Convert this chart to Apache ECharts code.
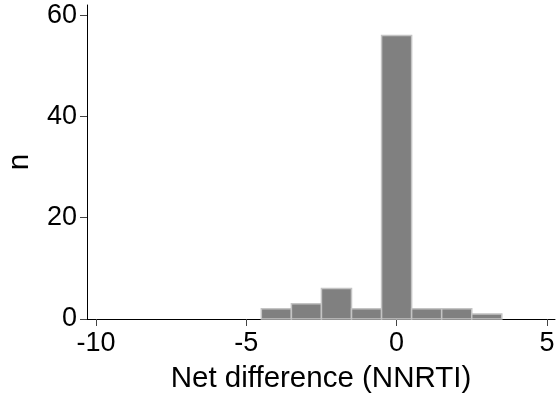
<!doctype html>
<html lang="en">
<head>
<meta charset="UTF-8">
<title>Net difference histogram</title>
<style>
  html, body { margin: 0; padding: 0; background: #fff; }
  #chart { width: 560px; height: 404px; }
</style>
</head>
<body>
<div id="chart"></div>
<script src="https://cdn.jsdelivr.net/npm/echarts@6/dist/echarts.min.js"></script>
<script>
// bin edges (width 1) and counts
var binStart = [-4.5, -3.5, -2.5, -1.5, -0.5, 0.5, 1.5, 2.5];
var binEnd   = [-3.5, -2.5, -1.5, -0.5, 0.5, 1.5, 2.5, 3.5];
var counts   = [2, 3, 6, 2, 56, 2, 2, 1];
var xTicks = [-10, -5, 0, 5];
var yTicks = [0, 20, 40, 60];

var bins = binStart.map(function (s, i) { return [s, binEnd[i], counts[i]]; });

var chart = echarts.init(document.getElementById('chart'));
var font = 'Liberation Sans, Arial, sans-serif';

chart.setOption({
  animation: false,
  grid: { left: 87, right: 5, top: 5, bottom: 85, containLabel: false, outerBoundsMode: 'none' },
  xAxis: {
    type: 'value',
    min: -10.3, max: 5.27,
    name: 'Net difference (NNRTI)',
    nameLocation: 'middle',
    nameGap: 45,
    nameTextStyle: { fontFamily: font, fontSize: 29.5, color: '#000' },
    axisLine: { show: true, onZero: false, lineStyle: { color: '#000', width: 1 } },
    axisTick: { show: true, length: 7, customValues: xTicks, lineStyle: { color: '#444' } },
    axisLabel: { customValues: xTicks, fontFamily: font, fontSize: 27, color: '#000', margin: 11 },
    splitLine: { show: false }
  },
  yAxis: {
    type: 'value',
    min: 0, max: 62,
    name: 'n',
    nameLocation: 'middle',
    nameGap: 52,
    nameRotate: 90,
    nameTextStyle: { fontFamily: font, fontSize: 29.5, color: '#000' },
    axisLine: { show: true, onZero: false, lineStyle: { color: '#000', width: 1 } },
    axisTick: { show: true, length: 7, customValues: yTicks, lineStyle: { color: '#444' } },
    axisLabel: { customValues: yTicks, fontFamily: font, fontSize: 27, color: '#000', margin: 10 },
    splitLine: { show: false }
  },
  series: [{
    type: 'custom',
    data: bins,
    encode: { x: [0, 1], y: 2 },
    renderItem: function (params, api) {
      var p0 = api.coord([api.value(0), 0]);
      var p1 = api.coord([api.value(1), api.value(2)]);
      return {
        type: 'rect',
        shape: { x: p0[0], y: p1[1], width: p1[0] - p0[0], height: p0[1] - p1[1] },
        style: { fill: '#808080', stroke: '#c4c4c4', lineWidth: 1.5 }
      };
    }
  }]
});
</script>
</body>
</html>
